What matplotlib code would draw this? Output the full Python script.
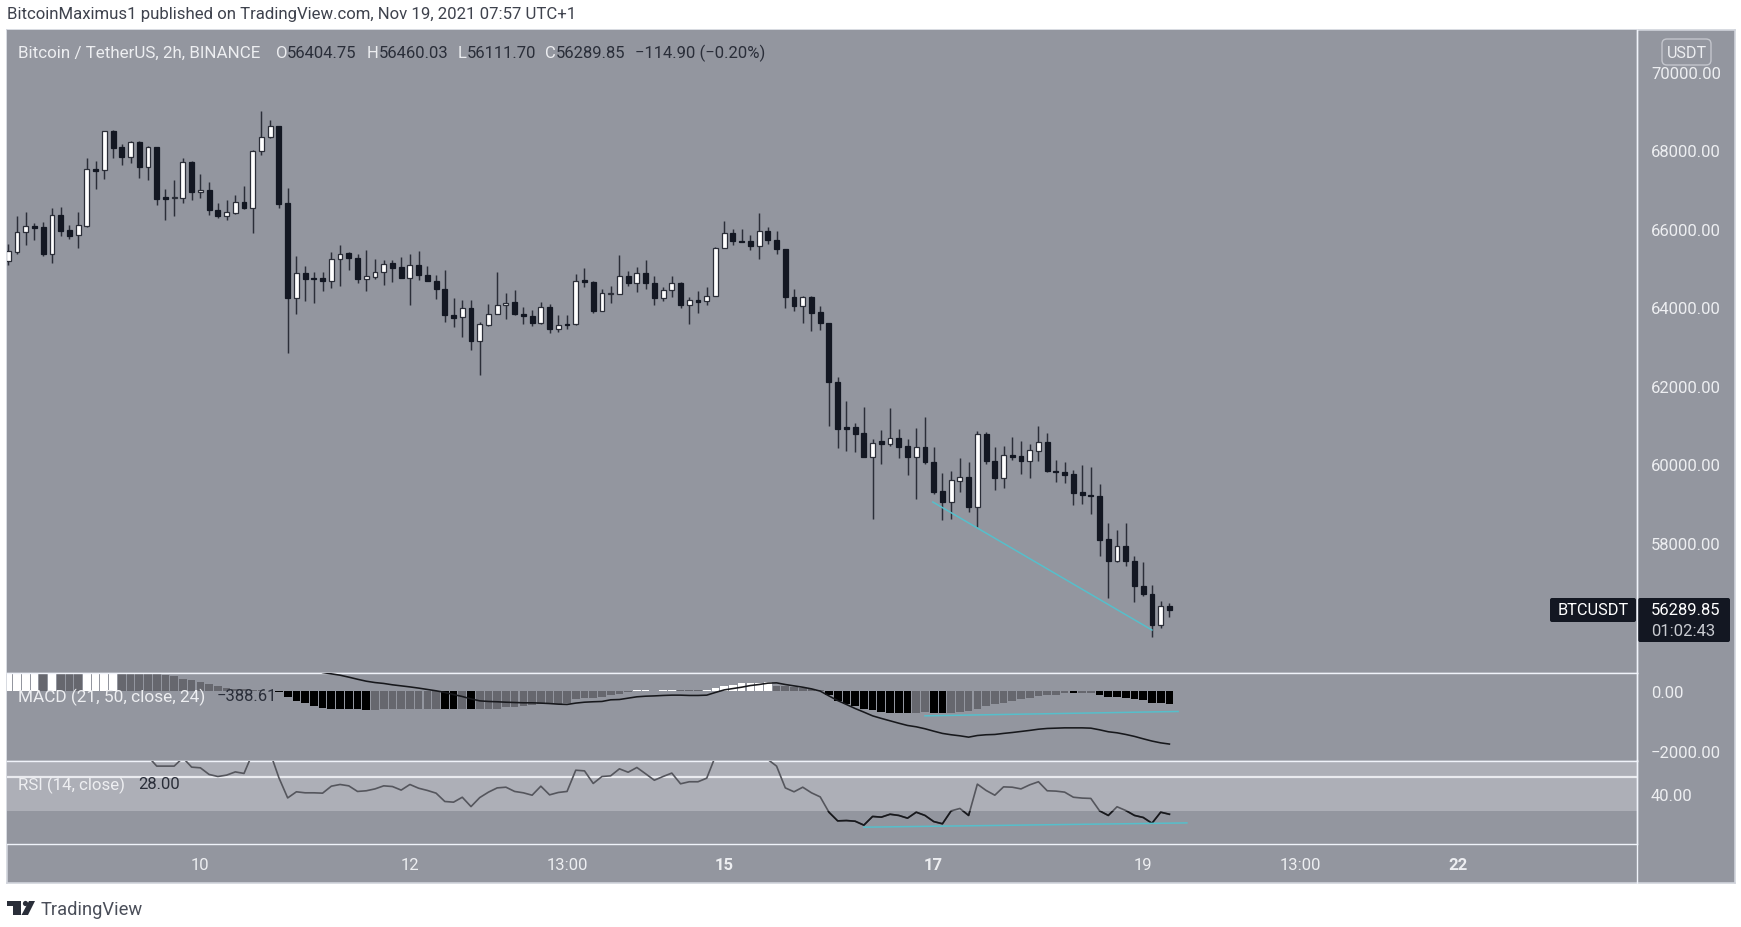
import matplotlib
matplotlib.use('Agg')
import matplotlib.pyplot as plt
from matplotlib.patches import FancyBboxPatch, Polygon, Circle, Rectangle
import numpy as np

plt.rcParams['font.family'] = ['Roboto', 'DejaVu Sans']

W, H = 1741, 928
BG = '#93969F'
DARK = '#131722'
LIGHT = '#EDEEF1'
CYAN = '#56BFCB'

# open, high, low, close of the 2h bars
ohlc = [
    (65195,65620,65080,65430), (65420,66340,65365,65930), (65925,66425,65590,66075), (66085,66145,65710,66035),
    (66050,66170,65305,65355), (65370,66525,65135,66365), (66365,66550,65830,65950), (65965,66110,65745,65830),
    (65840,66425,65505,66110), (66085,67800,66060,67530), (67535,67740,67020,67485), (67495,68505,67275,68490),
    (68490,68515,67800,68065), (68080,68165,67630,67835), (67845,68235,67680,68225), (68225,68235,67310,67570),
    (67580,68105,67250,68080), (68080,68080,66610,66765), (66805,67020,66240,66755), (66790,67250,66320,66805),
    (66800,67800,66660,67700), (67705,67740,66745,66935), (66935,67395,66780,67000), (67000,67190,66350,66475),
    (66475,66660,66270,66320), (66320,66745,66230,66425), (66415,66865,66380,66680), (66690,67105,66520,66525),
    (66525,68005,65890,67995), (67985,69015,67885,68335), (68335,68785,68325,68635), (68635,68635,66545,66645),
    (66655,67035,62840,64240), (64240,65305,63825,64885), (64885,65065,64175,64735), (64745,64895,64125,64725),
    (64745,64895,64410,64665), (64675,65415,64495,65225), (65225,65590,64555,65370), (65380,65405,64955,65255),
    (65260,65355,64635,64725), (64735,65475,64410,64795), (64785,65245,64735,64915), (64915,65200,64580,65115),
    (65125,65210,64640,65015), (65030,65295,64750,64760), (64760,65355,64065,65090), (65090,65440,64690,64820),
    (64830,65065,64665,64675), (64685,64830,64210,64470), (64480,64945,63620,63800), (63815,64235,63510,63740),
    (63750,64200,63250,63985), (63985,64200,62925,63140), (63140,63620,62290,63580), (63565,64080,63535,63845),
    (63835,64895,63825,64070), (64070,64370,63705,64125), (64130,64455,63815,63825), (63845,64020,63590,63775),
    (63785,63935,63535,63595), (63595,64130,63590,64015), (64020,64080,63360,63450), (63460,63815,63385,63545),
    (63580,63815,63445,63545), (63570,64845,63560,64685), (64690,65005,64530,64650), (64660,64675,63850,63920),
    (63920,64460,63910,64360), (64350,64540,64115,64370), (64350,65330,64345,64795), (64795,64920,64555,64615),
    (64615,65040,64405,64880), (64885,65220,64460,64615), (64625,64795,64055,64235), (64235,64515,64175,64455),
    (64435,64810,64260,64625), (64630,64640,63995,64065), (64065,64260,63590,64180), (64190,64430,63850,64150),
    (64155,64515,64055,64300), (64300,65550,64295,65525), (65515,66195,65505,65900), (65905,65990,65590,65685),
    (65700,65990,65675,65675), (65695,65845,65475,65565), (65575,66405,65245,65955), (65955,66050,65615,65720),
    (65730,65940,65365,65480), (65500,65500,63995,64260), (64275,64460,63910,64030), (64030,64300,63615,64275),
    (64275,64285,63410,63860), (63875,64030,63420,63595), (63615,63615,60980,62095), (62100,62220,60430,60905),
    (60945,61610,60345,60905), (60945,61065,60320,60785), (60795,61475,60200,60200), (60200,60650,58600,60555),
    (60590,60885,60020,60520), (60520,61440,60460,60675), (60685,60910,60175,60455), (60470,60655,59740,60200),
    (60200,60920,59120,60445), (60445,61210,60020,60055), (60070,60455,59240,59300), (59315,59785,58575,59035),
    (59045,59840,58600,59595), (59585,60165,59305,59690), (59690,60055,58795,58925), (58925,60855,58400,60770),
    (60770,60825,60020,60080), (60095,60455,59360,59645), (59655,60480,59410,60240), (60240,60690,60115,60200),
    (60215,60590,59755,60090), (60090,60515,59645,60360), (60350,60970,60080,60565), (60570,60800,59815,59825),
    (59840,60105,59560,59800), (59810,60055,59530,59740), (59755,59850,58975,59280), (59290,59985,59000,59215),
    (59230,59925,58745,59190), (59205,59495,57675,58085), (58100,58500,56605,57530), (57530,58330,57525,57920),
    (57930,58500,57415,57530), (57550,57670,56485,56895), (56905,57515,56655,56700), (56710,56935,55610,55910),
    (55910,56515,55840,56400), (56404,56460,56112,56290),
]

# the first 18 bars run off the top of the pane, so they are rough guesses
hist = [
    900, 950, 1000, 1020, 1000, 1020, 1000, 980, 970, 1000, 1040, 1060, 1080, 1000, 950, 880, 800, 700, 530, 470,
    400, 355, 280, 220, 155, 100, 65, 45, 20, 10, -10, -45, -220, -335, -420, -510, -590, -620, -620, -620,
    -620, -665, -645, -620, -620, -620, -620, -600, -600, -600, -600, -620, -620, -620, -620, -600, -600, -555, -535, -510,
    -490, -445, -445, -445, -400, -290, -265, -245, -220, -165, -100, -65, 10, 10, -5, 10, 20, 20, 10, 5,
    10, 75, 155, 200, 235, 245, 265, 280, 155, 135, 110, 90, 55, 20, -145, -335, -445, -510, -620, -665,
    -710, -735, -735, -735, -735, -710, -735, -735, -735, -700, -690, -600, -510, -465, -420, -365, -290, -235, -180, -165,
    -135, -90, -90, -80, -90, -135, -200, -200, -245, -290, -320, -400, -400, -435,
]
hist_kind = ('wwwwgwgggwwwwggggggggggggggggggg'[:31] + 'k' * 10 + 'k' + 'g' * 8 + 'kk' + 'g' + 'k' + 'g' * 18
             + 'wwgww' + 'ggg' + 'w' * 8 + 'g' * 6 + 'k' * 10 + 'gg' + 'kk' + 'g' * 14 + 'k' + 'gg' + 'k' * 9)
hist_colors = {'w': '#FFFFFF', 'g': '#66676E', 'k': '#000000'}

macd_start = 36
macd = [
    600, 555, 510, 445, 375, 310, 265, 235, 190, 155, 120, 80, 35, -10, -65, -135, -200, -280, -345, -365,
    -375, -390, -400, -410, -410, -420, -435, -455, -465, -420, -390, -375, -365, -310, -300, -255, -210, -190, -180, -165,
    -155, -155, -165, -165, -155, -65, 20, 65, 110, 165, 200, 245, 255, 200, 155, 110, 55, -20, -180, -335,
    -465, -600, -720, -845, -930, -1010, -1090, -1165, -1210, -1275, -1355, -1430, -1475, -1510, -1555, -1500, -1475, -1465, -1430, -1400,
    -1365, -1330, -1290, -1265, -1255, -1245, -1245, -1245, -1255, -1310, -1375, -1410, -1465, -1530, -1610, -1685, -1745, -1785,
]

rsi_start = 16
rsi = [
    62, 56.3, 56.3, 56.3, 61.2, 55.7, 55.3, 51.4, 50.2, 51.0, 52.9, 52.0, 64.1, 66, 64.1, 49.4, 37.6, 41.2, 40.6, 40.6,
    40.4, 44.5, 45.5, 44.7, 41.4, 41.8, 42.9, 44.7, 44.3, 42.2, 45.5, 43.3, 42, 40.4, 35.5, 35.1, 38, 32.5, 37.8, 41,
    43.5, 43.9, 41.4, 40.6, 39.2, 44.5, 39.4, 40.8, 41.4, 53.9, 53.5, 46.1, 50.2, 50.6, 54.7, 52.7, 55.5, 51.8, 48, 50.2,
    52.2, 45.9, 47.1, 47.1, 49.2, 62.2, 68, 70, 70, 69, 66, 60.2, 56.3, 43.5, 41.2, 43.9, 40.6, 38.2, 29.2, 24.1,
    24.3, 23.9, 21.6, 26.7, 26.3, 28, 27.3, 25.7, 29.2, 27.3, 23.7, 22.4, 30, 31.4, 27.3, 45.7, 42, 39.2, 44.1, 43.9,
    42.9, 45.3, 47.1, 41.8, 41.6, 41, 38, 37.5, 37.3, 30, 27.3, 32.4, 30.2, 27.3, 26.1, 22.7, 29.2, 28.0,
]

time_ticks = [(22, '10'), (46, '12'), (64, '13:00'), (82, '15'), (106, '17'), (130, '19'), (148, '13:00'), (166, '22')]
bold_ticks = ['15', '17', '22']

XLIM = (-0.15, 186.56)


def add_pane(fig, y_top, y_bot, ylim):
    ax = fig.add_axes([7 / W, 1 - y_bot / H, (1637 - 7) / W, (y_bot - y_top) / H])
    ax.set_facecolor(BG)
    ax.set_xlim(*XLIM)
    ax.set_ylim(*ylim)
    ax.set_xticks([])
    ax.yaxis.tick_right()
    ax.tick_params(axis='y', length=0, pad=10, labelsize=12, labelcolor=LIGHT)
    for s in ax.spines.values():
        s.set_color('#F0F3FA')
        s.set_linewidth(1.0)
    ax.spines['left'].set_visible(False)
    return ax


def draw_candles(ax):
    idx = np.arange(len(ohlc))
    o, h, l, c = np.array(ohlc, dtype=float).T
    up = c >= o
    ax.vlines(idx, l, h, color='#2B2E38', lw=1.05, zorder=2)
    low = np.minimum(o, c)
    high = np.maximum(o, c)
    ax.bar(idx[up], (high - low)[up], bottom=low[up], width=0.56, color='white', edgecolor='#2B2E38', lw=0.9, zorder=3)
    ax.bar(idx[~up], (high - low)[~up], bottom=low[~up], width=0.56, color=DARK, edgecolor=DARK, lw=0.9, zorder=3)


def main():
    fig = plt.figure(figsize=(W / 100, H / 100), dpi=100, facecolor='white')

    # chart frame, also the time axis strip
    frame = fig.add_axes([7 / W, 1 - 883.5 / H, (1735 - 7) / W, (883.5 - 31) / H])
    frame.set_facecolor(BG)
    frame.set_xticks([])
    frame.set_yticks([])
    for s in frame.spines.values():
        s.set_color('#D1D4DC')
        s.set_linewidth(1.2)

    ax = add_pane(fig, 31, 673.5, (54700, 71070))
    draw_candles(ax)
    ax.plot([105.9, 131.0], [59044, 55782], color=CYAN, lw=1.1, zorder=4)
    ax.set_yticks([58000, 60000, 62000, 64000, 66000, 68000, 70000])
    ax.set_yticklabels(['%.2f' % v for v in ax.get_yticks()])
    ax.spines['top'].set_visible(False)

    ax2 = add_pane(fig, 673.5, 761.5, (-2333, 600))
    idx = np.arange(len(hist))
    ax2.bar(idx, hist, width=0.88, color=[hist_colors[k] for k in hist_kind], zorder=2)
    ax2.plot(np.arange(len(macd)) + macd_start, macd, color='#17181C', lw=1.15, zorder=3)
    ax2.plot([105, 134], [-844, -699], color=CYAN, lw=1.1, zorder=4)
    ax2.set_yticks([0, -2000])
    ax2.set_yticklabels(['0.00', '\u22122000.00'])

    ax3 = add_pane(fig, 761.5, 844.5, (10.8, 59.6))
    ax3.axhspan(30, 70, color='#ADAFB7', lw=0, zorder=1)
    ax3.axhline(50, color='#EAEBEF', lw=1.6, zorder=1.5)
    x_rsi = np.arange(len(rsi)) + rsi_start
    ax3.plot(x_rsi, rsi, color='#55565D', lw=1.2, zorder=3)
    low_part, = ax3.plot(x_rsi, rsi, color='#17181C', lw=1.2, zorder=3.1)
    low_part.set_clip_path(Rectangle((-1, 0), 200, 30, transform=ax3.transData))
    ax3.plot([98, 135], [20.4, 22.9], color=CYAN, lw=1.1, zorder=4)
    ax3.set_yticks([40])
    ax3.set_yticklabels(['40.00'])
    ax3.set_xticks([t[0] for t in time_ticks])
    ax3.set_xticklabels([t[1] for t in time_ticks])
    ax3.tick_params(axis='x', length=0, pad=9.5, labelsize=12, labelcolor=LIGHT)
    for lab in ax3.get_xticklabels():
        if lab.get_text() in bold_ticks:
            lab.set_fontweight('bold')

    # texts and labels in pixel positions
    px = fig.add_axes([0, 0, 1, 1], facecolor='none')
    px.set_xlim(0, W)
    px.set_ylim(H, 0)
    px.axis('off')
    px.plot([1637, 1637], [31, 883.5], color='#F0F3FA', lw=1.0)

    def txt(x, y, s, color=LIGHT, size=12, **kw):
        px.text(x, y, s, color=color, fontsize=size, va='center', ha=kw.pop('ha', 'left'), **kw)

    txt(7, 14, 'BitcoinMaximus1 published on TradingView.com, Nov 19, 2021 07:57 UTC+1', color='#3E424D', size=12.1)
    txt(18, 53, 'Bitcoin / TetherUS, 2h, BINANCE', size=12.25)
    val = '#2A2E39'
    for x_l, letter, x_v, value in [(276, 'O', 287, '56404.75'), (367, 'H', 379, '56460.03'),
                                    (458, 'L', 467, '56111.70'), (545, 'C', 556, '56289.85')]:
        txt(x_l, 53, letter, size=12)
        txt(x_v, 53, value, color=val, size=12)
    txt(635, 53, '\u2212114.90 (\u22120.20%)', color=val, size=12)
    txt(18, 697, 'MACD (21, 50, close, 24)', size=12.4)
    txt(217, 697, '\u2212388.61', color=val, size=12)
    txt(18, 785, 'RSI (14, close)', size=12.2)
    txt(138, 785, '28.00', color=val, size=12)

    px.add_patch(FancyBboxPatch((1664, 42), 45, 22, boxstyle='round,pad=2,rounding_size=5',
                                facecolor=BG, edgecolor='#C3C5CC', lw=1))
    txt(1686.5, 53, 'USDT', ha='center', size=11.6)

    px.add_patch(FancyBboxPatch((1552, 601), 82, 20, boxstyle='round,pad=2,rounding_size=2',
                                facecolor=DARK, edgecolor=DARK, lw=0))
    txt(1593, 611, 'BTCUSDT', color='white', ha='center', size=11.8)
    px.add_patch(FancyBboxPatch((1640, 601), 88, 40, boxstyle='round,pad=2,rounding_size=2',
                                facecolor=DARK, edgecolor=DARK, lw=0))
    txt(1651, 611, '56289.85', color='white')
    txt(1651, 632, '01:02:43', color='#C9CBD1')

    logo = '#2A2E39'
    px.add_patch(Polygon([(7, 902), (21, 902), (21, 916), (13, 916), (13, 907), (7, 907)], color=logo, lw=0))
    px.add_patch(Circle((25.5, 904.5), 2.6, color=logo, lw=0))
    px.add_patch(Polygon([(29, 902), (35, 902), (28, 916), (21.5, 916)], color=logo, lw=0))
    txt(41, 910, 'TradingView', color='#4A4E59', size=13.2)

    fig.savefig('out.png', dpi=100, facecolor='white')


if __name__ == '__main__':
    main()
